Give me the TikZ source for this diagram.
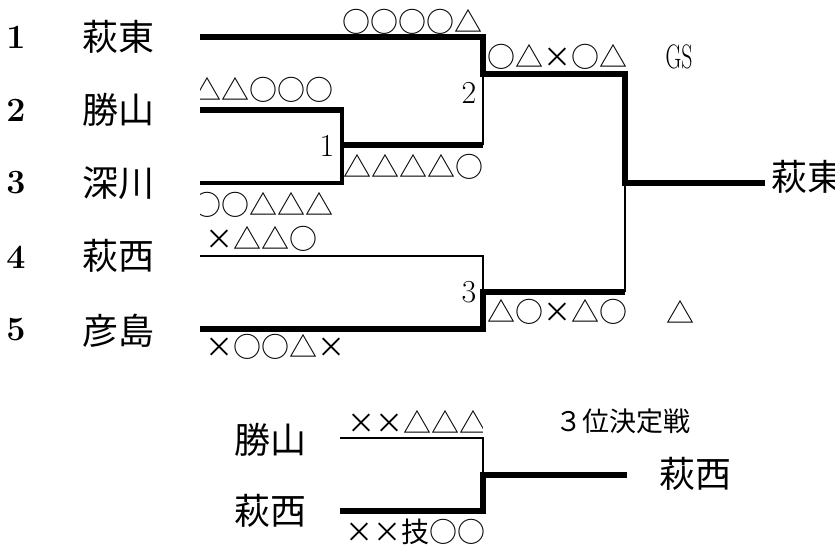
\documentclass[tikz,border=0pt]{standalone}
\usepackage{fontspec}
\newfontfamily\cjk{Noto Sans CJK JP}
\newcommand\mk[1]{\mkloop#1\relax}
\def\mkloop#1{\ifx#1\relax\else\makebox[1em]{#1}\expandafter\mkloop\fi}
\tikzset{
  thickln/.style={line width=6pt, line join=miter},
  thinln/.style={line width=2.7pt, line join=miter},
  midln/.style={line width=3.2pt, line join=miter},
  team/.style={font=\cjk\fontsize{36}{36}\selectfont, inner sep=0pt},
  seed/.style={font=\bfseries\fontsize{34}{34}\selectfont, inner sep=0pt},
  mno/.style={font=\fontsize{32}{32}\selectfont, inner sep=0pt},
  marks/.style={font=\cjk\fontsize{28}{28}\selectfont, inner sep=0pt},
  note/.style={font=\cjk\fontsize{27}{27}\selectfont, inner sep=0pt},
}
\begin{document}
\begin{tikzpicture}[x=1pt,y=-1pt]
\useasboundingbox[fill=white] (0,0) rectangle (835,550);
% seeds and names
\node[seed] (s1) at (16,37) {1};
\node[seed] (s2) at (16,110) {2};
\node[seed] (s3) at (16,183) {3};
\node[seed] (s4) at (16,257) {4};
\node[seed] (s5) at (16,330) {5};
\node[team] (n1) at (118,37) {萩東};
\node[team] (n2) at (118,110) {勝山};
\node[team] (n3) at (118,183) {深川};
\node[team] (n4) at (118,256) {萩西};
\node[team] (n5) at (118,331) {彦島};
% coordinates
\coordinate (a1) at (200,37);
\coordinate (a2) at (200,110);
\coordinate (a3) at (200,183);
\coordinate (a4) at (200,256);
\coordinate (a5) at (200,329);
\coordinate (m1) at (342,110);
\coordinate (m1b) at (342,183);
\coordinate (m1c) at (342,145);
\coordinate (m2t) at (483,37);
\coordinate (m2m) at (483,74);
\coordinate (m2b) at (483,145);
\coordinate (m3t) at (483,256);
\coordinate (m3m) at (483,292);
\coordinate (m3b) at (483,329);
\coordinate (ft) at (625,74);
\coordinate (fm) at (625,183);
\coordinate (fb) at (625,292);
\coordinate (fe) at (765,183);
% match 1
\draw[midln] (a3) -- (m1b) -- (m1);
\draw[thickln] (a2) -- ([xshift=1.6pt]m1);
\draw[thickln] (m1c) -- (m2b);
% match 2
\draw[thinln] (m2m) -- (m2b);
\draw[thickln] (a1) -- (m2t) -- (m2m) -- (ft) -- (fm) -- (fe);
% match 3
\draw[thinln] (a4) -- (m3t) -- (m3m);
\draw[thickln] (a5) -- (m3b) -- (m3m) -- (fb);
\draw[thinln] (fb) -- (fm);
% winner
\node[team, anchor=west] (w) at (771,177) {萩東};
% match numbers
\node[mno] (k1) at (327,146) {1};
\node[mno] (k2) at (469,93) {2};
\node[mno] (k3) at (469,292) {3};
% marks
\node[marks, anchor=east] (r1) at (483,22) {\mk{○○○○△}};
\node[marks, anchor=west] (r2) at (487,57) {\mk{○△×○△}};
\node[font=\fontsize{34}{34}\selectfont, inner sep=0pt] (gs) at (679,57) {\scalebox{0.64}[1]{GS}};
\begin{scope}
\clip (200,0) rectangle (600,550);
\node[marks, anchor=east] (r3) at (334,90) {\mk{△△○○○}};
\node[marks, anchor=east] (r4) at (334,205) {\mk{○○△△△}};
\end{scope}
\node[marks, anchor=west] (r5) at (343,167) {\mk{△△△△○}};
\node[marks, anchor=west] (r6) at (205,239) {\mk{×△△○}};
\node[marks, anchor=west] (r7) at (487,312) {\mk{△○×△○}};
\node[marks] (r8) at (680,312) {△};
\node[marks, anchor=west] (r9) at (205,347) {\mk{×○○△×}};
% third place
\node[team] (p1) at (270,440) {勝山};
\node[team] (p2) at (270,511) {萩西};
\coordinate (b1) at (340,438);
\coordinate (b2) at (340,511);
\coordinate (t1) at (483,438);
\coordinate (t2) at (483,475);
\coordinate (t3) at (483,511);
\coordinate (te) at (627,475);
\draw[thinln] (b1) -- (t1) -- (t2);
\draw[thickln] (b2) -- (t3) -- (t2) -- (te);
\node[team] (pw) at (695,474) {萩西};
\node[note, anchor=west] (ttl) at (555,421) {３位決定戦};
\begin{scope}
\clip (0,380) rectangle (482,550);
\node[marks, anchor=west] (q1) at (347,422) {\mk{××△△△}};
\end{scope}
\node[marks, anchor=west] (q2) at (345,532) {\mk{××技○○}};
\end{tikzpicture}
\end{document}
